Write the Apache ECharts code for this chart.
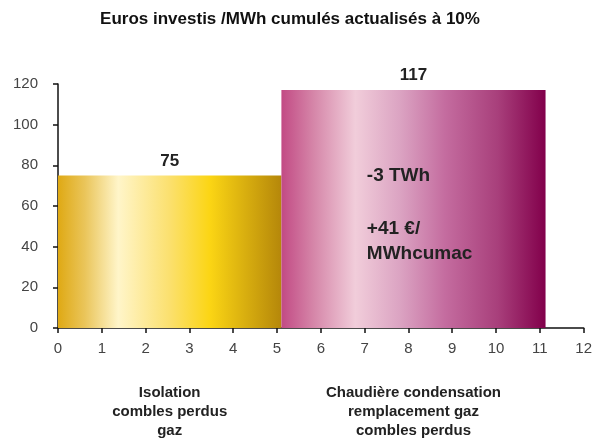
<!DOCTYPE html>
<html>
<head>
<meta charset="utf-8">
<script src="https://cdn.jsdelivr.net/npm/echarts@6/dist/echarts.min.js"></script>
<style>
  html, body { margin: 0; padding: 0; background: #fff; }
  #chart { width: 595px; height: 439px; }
</style>
</head>
<body>
<div id="chart"></div>
<script>
// data
const barStart = [0, 5.1];
const barEnd = [5.1, 11.13];
const barValue = [75, 117];
const barNames = ['Isolation\ncombles perdus\ngaz', 'Chaudière condensation\nremplacement gaz\ncombles perdus'];
const noteText = ['-3 TWh', '+41 €/\nMWhcumac'];
const noteX = [7.05, 7.05];
const noteY = [81, 55];

const gold = new echarts.graphic.LinearGradient(0, 0, 1, 0, [
  { offset: 0, color: '#dfa914' },
  { offset: 0.12, color: '#eac55a' },
  { offset: 0.27, color: '#fff5c9' },
  { offset: 0.5, color: '#fbe06e' },
  { offset: 0.68, color: '#fbd514' },
  { offset: 1, color: '#b5870a' }
]);
const plum = new echarts.graphic.LinearGradient(0, 0, 1, 0, [
  { offset: 0, color: '#c24a84' },
  { offset: 0.12, color: '#d585a8' },
  { offset: 0.28, color: '#f1cdda' },
  { offset: 0.45, color: '#dba3c2' },
  { offset: 0.62, color: '#c46c9f' },
  { offset: 0.82, color: '#a83f7b' },
  { offset: 1, color: '#82004b' }
]);
const fills = [gold, plum];

const chart = echarts.init(document.getElementById('chart'));

const barData = barValue.map((v, i) => [barStart[i], barEnd[i], v, i]);
const noteData = noteText.map((t, i) => [noteX[i], noteY[i], i]);

const axisCommon = {
  axisLine: { show: true, lineStyle: { color: '#111', width: 1.5 } },
  axisTick: { show: true, inside: false, length: 5, lineStyle: { color: '#111', width: 1.5 } },
  splitLine: { show: false },
  axisLabel: { color: '#444', fontSize: 15, fontFamily: 'Liberation Sans' }
};

const option = {
  animation: false,
  title: {
    text: 'Euros investis /MWh cumulés actualisés à 10%',
    left: 285,
    textAlign: 'center',
    top: 6,
    textStyle: { fontFamily: 'Liberation Sans', fontWeight: 'bold', fontSize: 17, color: '#111' }
  },
  grid: { left: 58, right: 6, top: 84, bottom: 111, containLabel: false },
  xAxis: Object.assign({}, axisCommon, {
    type: 'value', min: 0, max: 12, interval: 1,
    axisLabel: Object.assign({}, axisCommon.axisLabel, { margin: 13 })
  }),
  yAxis: Object.assign({}, axisCommon, {
    type: 'value', min: 0, max: 120, interval: 20,
    axisLabel: Object.assign({}, axisCommon.axisLabel, { margin: 20 })
  }),
  series: [
    {
      type: 'custom',
      clip: false,
      data: barData,
      renderItem: function (params, api) {
        const x0 = api.value(0), x1 = api.value(1), v = api.value(2), idx = api.value(3);
        const p0 = api.coord([x0, 0]);
        const p1 = api.coord([x1, v]);
        const mid = api.coord([(x0 + x1) / 2, v]);
        const base = api.coord([(x0 + x1) / 2, 0]);
        return {
          type: 'group',
          children: [
            {
              type: 'rect',
              shape: { x: p0[0], y: p1[1], width: p1[0] - p0[0], height: p0[1] - p1[1] },
              style: { fill: fills[idx] }
            },
            {
              type: 'text',
              x: mid[0], y: mid[1] - 6,
              style: {
                text: String(v), align: 'center', verticalAlign: 'bottom',
                fill: '#222', font: 'bold 17px "Liberation Sans"'
              }
            },
            {
              type: 'text',
              x: base[0], y: base[1] + 55,
              style: {
                text: barNames[idx], align: 'center', verticalAlign: 'top',
                fill: '#222', font: 'bold 15px "Liberation Sans"', lineHeight: 19
              }
            }
          ]
        };
      }
    },
    {
      type: 'custom',
      clip: false,
      data: noteData,
      renderItem: function (params, api) {
        const p = api.coord([api.value(0), api.value(1)]);
        const idx = api.value(2);
        return {
          type: 'text',
          x: p[0], y: p[1],
          style: {
            text: noteText[idx], align: 'left', verticalAlign: 'top',
            fill: '#222', font: 'bold 19px "Liberation Sans"', lineHeight: 25
          }
        };
      }
    }
  ]
};

chart.setOption(option);

window.addEventListener('resize', () => chart.resize());
</script>
</body>
</html>
